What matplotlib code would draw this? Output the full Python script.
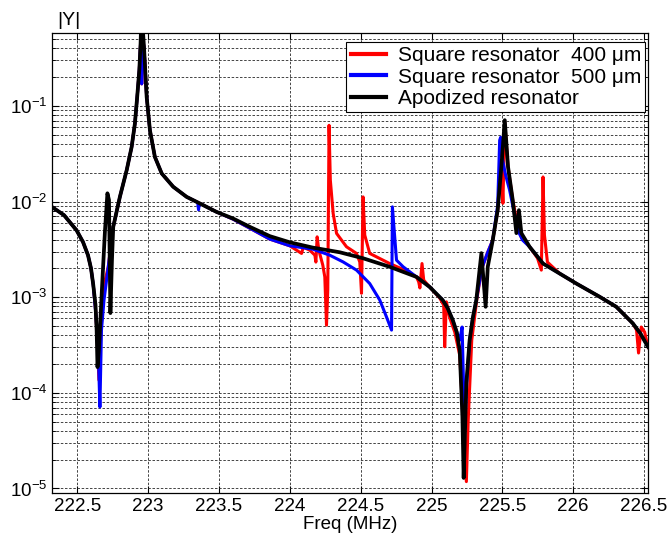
import matplotlib
matplotlib.use("Agg")
import matplotlib.pyplot as plt
from matplotlib.ticker import LogLocator, NullFormatter

plt.rcParams['font.family'] = ['Liberation Sans', 'DejaVu Sans']
plt.rcParams['mathtext.fontset'] = 'custom'
plt.rcParams['mathtext.rm'] = 'Liberation Sans'

# Square resonator 400 um (red)
freq_400 = [222.30, 222.324, 222.407, 222.496, 222.541, 222.576, 222.597, 222.613, 222.629, 222.640,
            222.653, 222.667, 222.689, 222.719, 222.754, 222.801, 222.849, 222.884, 222.907, 222.923,
            222.938, 222.947, 222.951, 222.955, 222.961, 222.971, 222.990, 223.013, 223.048, 223.096,
            223.177, 223.272, 223.366, 223.483, 223.600, 223.718, 223.859, 224.000,
            224.083, 224.095, 224.141, 224.177, 224.184, 224.193, 224.205, 224.233, 224.247, 224.259,
            224.268, 224.277, 224.286, 224.306, 224.330, 224.400, 224.471, 224.494, 224.506, 224.517,
            224.529, 224.564, 224.658, 224.705, 224.811, 224.894, 224.910, 224.918, 224.933, 224.945,
            224.987, 225.058, 225.086, 225.093, 225.105, 225.129, 225.164, 225.199, 225.220, 225.246,
            225.259, 225.284, 225.319, 225.355, 225.397, 225.432, 225.467, 225.493, 225.504, 225.517,
            225.540, 225.573, 225.608, 225.636, 225.692, 225.748, 225.775, 225.787, 225.797, 225.818,
            225.904, 226.022, 226.187, 226.304, 226.421, 226.447, 226.461, 226.480, 226.504, 226.527,
            226.55]
y_400 = [9.2e-3, 8.74e-3, 7.21e-3, 4.99e-3, 3.77e-3, 2.75e-3, 2.01e-3, 1.35e-3, 7.5e-4, 4.0e-4,
         1.36e-4, 4.53e-4, 1.34e-3, 2.08e-3, 5.44e-3, 1.12e-2, 2.13e-2, 3.73e-2, 6.55e-2, 0.124,
         0.236, 0.449, 0.8, 0.17, 0.5, 0.414, 0.124, 5.57e-2, 2.93e-2, 1.97e-2,
         1.43e-2, 1.12e-2, 9.55e-3, 7.80e-3, 6.55e-3, 5.27e-3, 4.05e-3, 3.45e-3,
         2.87e-3, 3.34e-3, 3.10e-3, 2.75e-3, 2.33e-3, 4.28e-3, 3.10e-3, 2.16e-3, 1.63e-3, 5.11e-4,
         1.19e-3, 6.28e-2, 1.68e-2, 7.52e-3, 4.65e-3, 3.37e-3, 2.87e-3, 2.33e-3, 1.10e-3, 1.12e-2,
         4.46e-3, 2.87e-3, 2.44e-3, 2.25e-3, 1.92e-3, 1.63e-3, 1.44e-3, 1.25e-3, 2.25e-3, 1.51e-3,
         1.28e-3, 9.8e-4, 8.26e-4, 3.03e-4, 8.95e-4, 6.05e-4, 4.32e-4, 2.48e-4, 6.6e-5, 1.18e-5,
         5.2e-5, 3.56e-4, 9.33e-4, 2.01e-3, 2.96e-3, 3.95e-3, 8.13e-3, 2.31e-2, 9.6e-3, 6.76e-2,
         2.31e-2, 1.04e-2, 5.66e-3, 4.15e-3, 3.37e-3, 2.56e-3, 1.92e-3, 1.81e-2, 4.46e-3, 2.33e-3,
         1.77e-3, 1.39e-3, 1.01e-3, 7.94e-4, 5.32e-4, 4.53e-4, 2.61e-4, 4.88e-4, 4.32e-4, 3.01e-4,
         2.7e-4]

# Square resonator 500 um (blue)
freq_500 = [222.30, 222.324, 222.407, 222.496, 222.541, 222.576, 222.597, 222.613, 222.632, 222.650,
            222.660, 222.671, 222.689, 222.719, 222.754, 222.801, 222.849, 222.884, 222.907, 222.923,
            222.938, 222.947, 222.951, 222.955, 222.961, 222.971, 222.990, 223.013, 223.048, 223.096,
            223.177, 223.272, 223.350, 223.356, 223.362, 223.483, 223.600, 223.718, 223.859, 224.000,
            224.163, 224.282, 224.376, 224.471, 224.564, 224.635, 224.682, 224.718, 224.724, 224.753,
            224.800, 224.894, 224.987, 225.079, 225.114, 225.150, 225.178, 225.199, 225.216, 225.234,
            225.248, 225.269, 225.291, 225.316, 225.355, 225.397, 225.432, 225.467, 225.481, 225.488,
            225.502, 225.523, 225.551, 225.587, 225.615, 225.643, 225.692, 225.787, 225.904, 226.022,
            226.187, 226.304, 226.421, 226.474, 226.527, 226.55]
y_500 = [9.2e-3, 8.74e-3, 7.21e-3, 4.99e-3, 3.77e-3, 2.75e-3, 2.01e-3, 1.35e-3, 6.5e-4, 2.2e-4,
         7.1e-5, 4.53e-4, 9.33e-4, 2.08e-3, 5.44e-3, 1.12e-2, 2.13e-2, 3.73e-2, 6.55e-2, 0.124,
         0.236, 0.449, 0.8, 0.17, 0.5, 0.414, 0.124, 5.57e-2, 2.93e-2, 1.97e-2,
         1.43e-2, 1.12e-2, 9.8e-3, 8.2e-3, 9.6e-3, 7.80e-3, 6.55e-3, 5.27e-3, 4.05e-3, 3.45e-3,
         3.18e-3, 2.75e-3, 2.34e-3, 1.92e-3, 1.39e-3, 9.33e-4, 6.24e-4, 4.53e-4, 8.81e-3, 2.44e-3,
         2.08e-3, 1.63e-3, 1.28e-3, 9.33e-4, 7.69e-4, 5.77e-4, 4.32e-4, 3.56e-4, 4.88e-4, 4.07e-5,
         1.27e-4, 3.56e-4, 6.05e-4, 9.33e-4, 2.01e-3, 2.96e-3, 3.95e-3, 9.16e-3, 4.38e-2, 4.7e-2,
         2.71e-2, 1.89e-2, 1.32e-2, 7.21e-3, 4.79e-3, 3.95e-3, 3.37e-3, 2.25e-3, 1.77e-3, 1.39e-3,
         1.01e-3, 7.94e-4, 5.32e-4, 4.18e-4, 3.03e-4, 2.8e-4]

# Apodized resonator (black)
freq_apo = [222.30, 222.324, 222.407, 222.496, 222.541, 222.576, 222.597, 222.613, 222.629, 222.637,
            222.643, 222.653, 222.674, 222.696, 222.713, 222.724, 222.734, 222.745, 222.754, 222.801,
            222.849, 222.884, 222.907, 222.923, 222.938, 222.947, 222.954, 222.971, 222.990, 223.013,
            223.048, 223.096, 223.177, 223.272, 223.366, 223.483, 223.600, 223.718, 223.859, 224.000,
            224.163, 224.353, 224.515, 224.705, 224.894, 224.987, 225.079, 225.114, 225.150, 225.178,
            225.199, 225.218, 225.227, 225.246, 225.269, 225.291, 225.316, 225.352, 225.382, 225.397,
            225.432, 225.467, 225.493, 225.517, 225.540, 225.573, 225.599, 225.617, 225.634, 225.692,
            225.787, 225.904, 226.022, 226.187, 226.304, 226.421, 226.474, 226.527, 226.55]
y_apo = [9.2e-3, 8.74e-3, 7.21e-3, 4.99e-3, 3.77e-3, 2.75e-3, 2.01e-3, 1.35e-3, 8.26e-4, 4.5e-4,
         1.86e-4, 2.80e-4, 1.19e-3, 5.02e-3, 1.22e-2, 1.04e-2, 6.83e-4, 2.44e-3, 5.44e-3, 1.12e-2,
         2.13e-2, 3.73e-2, 6.55e-2, 0.124, 0.236, 0.449, 1.0, 0.414, 0.124, 5.57e-2,
         2.93e-2, 1.97e-2, 1.43e-2, 1.12e-2, 9.55e-3, 7.80e-3, 6.65e-3, 5.44e-3, 4.35e-3, 3.75e-3,
         3.30e-3, 2.95e-3, 2.56e-3, 2.08e-3, 1.63e-3, 1.28e-3, 9.33e-4, 7.69e-4, 5.77e-4, 4.32e-4,
         2.80e-4, 5.62e-5, 1.29e-5, 1.27e-4, 3.56e-4, 6.05e-4, 9.33e-4, 2.89e-3, 7.94e-4, 2.08e-3,
         3.95e-3, 8.13e-3, 2.31e-2, 7.1e-2, 2.31e-2, 1.04e-2, 4.68e-3, 8.13e-3, 4.68e-3, 3.37e-3,
         2.25e-3, 1.77e-3, 1.39e-3, 1.01e-3, 7.94e-4, 5.32e-4, 4.18e-4, 3.03e-4, 2.8e-4]

xticks = [222.5, 223, 223.5, 224, 224.5, 225, 225.5, 226, 226.5]
xtick_labels = ['222.5', '223', '223.5', '224', '224.5', '225', '225.5', '226', '226.5']

fig = plt.figure(figsize=(6.67, 5.45), dpi=100)
ax = fig.add_axes([0.0784, 0.0954, 0.8936, 0.8435])

ax.semilogy(freq_400, y_400, color='#ff0000', lw=2.2, label='Square resonator  400 \u03bcm')
ax.semilogy(freq_500, y_500, color='#0000ff', lw=2.2, label='Square resonator  500 \u03bcm')
ax.semilogy(freq_apo, y_apo, color='black', lw=2.7, label='Apodized resonator')

ax.set_xlim(222.324, 226.53)
ax.set_ylim(8.97e-6, 0.575)
ax.set_xticks(xticks)
ax.set_xticklabels(xtick_labels)
ax.yaxis.set_major_locator(LogLocator(base=10, numticks=10))
ax.yaxis.set_minor_locator(LogLocator(base=10, subs=range(2, 10), numticks=20))
ax.yaxis.set_minor_formatter(NullFormatter())

#matlab style grid and ticks
ax.grid(True, which='major', axis='both', color='0.15', linestyle=(0, (3, 2)), lw=0.6)
ax.grid(True, which='minor', axis='y', color='0.15', linestyle=(0, (3, 2)), lw=0.6)
ax.tick_params(which='both', direction='in', top=True, right=True, labelsize=13.5)
ax.tick_params(which='major', length=5)
ax.tick_params(which='minor', length=3)
for s in ax.spines.values():
    s.set_linewidth(0.9)

ax.set_xlabel('Freq (MHz)', fontsize=13.5, labelpad=1)
ax.text(0.008, 1.01, '|Y|', transform=ax.transAxes, fontsize=14, ha='left', va='bottom')

leg = ax.legend(loc='upper right', bbox_to_anchor=(0.9945, 0.981), fontsize=15, frameon=True,
                fancybox=False, framealpha=1, edgecolor='black', handlelength=1.7,
                labelspacing=0.12, borderpad=0.2, handletextpad=0.55, borderaxespad=0)
leg.get_frame().set_linewidth(0.8)
for line in leg.get_lines():
    line.set_linewidth(3)

fig.savefig('out.png', dpi=100)
